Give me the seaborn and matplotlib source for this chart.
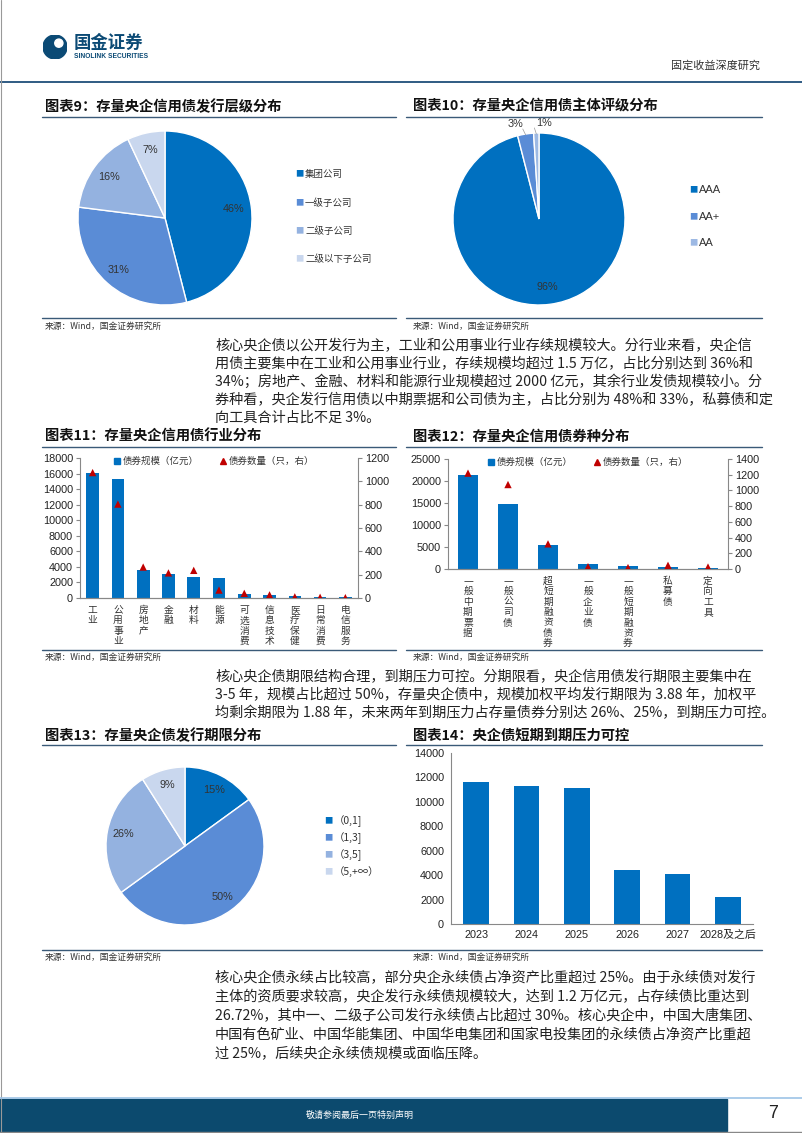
import numpy as np
import pandas as pd
import matplotlib
matplotlib.use('Agg')
import matplotlib.pyplot as plt
import seaborn as sns
from matplotlib.patches import Rectangle, Circle
from matplotlib.lines import Line2D

sns.set_theme(style='white')
plt.rcParams['font.family'] = ['Noto Sans CJK SC', 'DejaVu Sans']
plt.rcParams['axes.unicode_minus'] = False

# ---------------- data ----------------
tier_labels = ['集团公司', '一级子公司', '二级子公司', '二级以下子公司']
tier_share = [46, 31, 16, 7]

rating_labels = ['AAA', 'AA+', 'AA']
rating_share = [96, 3, 1]

industry = ['工业', '公用事业', '房地产', '金融', '材料', '能源', '可选消费',
            '信息技术', '医疗保健', '日常消费', '电信服务']
industry_amt = [16100, 15300, 3580, 3050, 2700, 2580, 450, 350, 230, 140, 100]
industry_cnt = [1075, 805, 265, 215, 237, 68, 40, 27, 10, 6, 3]

bond_type = ['一般中期票据', '一般公司债', '超短期融资债券', '一般企业债',
             '一般短期融资券', '私募债', '定向工具']
type_amt = [21400, 14700, 5400, 1230, 620, 550, 230]
type_cnt = [1220, 1075, 320, 30, 18, 47, 25]

tenor_labels = ['（0,1]', '（1,3]', '（3,5]', '（5,+∞）']
tenor_share = [15, 50, 26, 9]

mat_years = ['2023', '2024', '2025', '2026', '2027', '2028及之后']
mat_amt = [11590, 11320, 11130, 4430, 4120, 2240]

BLUE = '#0070C0'
RED = '#C00000'
pie_colors = ['#0070C0', '#5A8CD6', '#94B2E0', '#C9D7EE']
rating_colors = ['#0070C0', '#5A8CD6', '#9DB9E4']
NUMFONT = ['Liberation Sans', 'DejaVu Sans']
TXT = '#222222'
LINEC = '#3A5A78'

W, H = 802, 1133
fig = plt.figure(figsize=(W / 100, H / 100), dpi=100)


def box(x, y, w, h):
    return [x / W, 1 - (y + h) / H, w / W, h / H]


def ftext(x, y, s, **kw):
    kw.setdefault('va', 'center')
    return fig.text(x / W, 1 - y / H, s, **kw)


def hline(x0, x1, y, color, lw):
    fig.add_artist(Line2D([x0 / W, x1 / W], [1 - y / H, 1 - y / H],
                          color=color, lw=lw, transform=fig.transFigure))


# ---------------- header ----------------
lax = fig.add_axes(box(43, 35, 24, 24))
lax.set_xlim(0, 1); lax.set_ylim(0, 1); lax.set_aspect('equal'); lax.axis('off')
lax.add_patch(Circle((0.5, 0.5), 0.5, color='#0B4A75'))
lax.add_patch(Circle((0.66, 0.66), 0.17, color='white'))
ftext(74, 43, '国金证券', fontsize=12.5, fontweight='bold', color='#0B4A75')
ftext(74, 56, 'SINOLINK SECURITIES', fontsize=4.8, fontweight='bold',
      color='#0B4A75', family=NUMFONT)
ftext(760, 65, '固定收益深度研究', fontsize=8, color='#333333', ha='right')
hline(0, 802, 82, '#1F4E79', 1.3)
fig.add_artist(Line2D([0.5 / W, 0.5 / W], [0, 1], color='#999999', lw=0.8,
                      transform=fig.transFigure))

# ---------------- section titles / rules ----------------
def title(x, y, s):
    ftext(x, y, s, fontsize=10.3, fontweight='bold', color='#111111', style='italic')


def source(x, y):
    ftext(x, y, '来源：Wind，国金证券研究所', fontsize=6.3, color='#333333')


title(45, 107, '图表9：存量央企信用债发行层级分布')
title(413, 107, '图表10：存量央企信用债主体评级分布')
hline(42, 396, 117, LINEC, 1.0)
hline(406, 762, 117, LINEC, 1.0)
hline(42, 396, 318, LINEC, 1.0)
hline(406, 762, 318, LINEC, 1.0)
source(45, 326)
source(413, 326)

title(45, 437, '图表11：存量央企信用债行业分布')
title(413, 437, '图表12：存量央企信用债券种分布')
hline(42, 396, 447, LINEC, 1.0)
hline(406, 762, 447, LINEC, 1.0)
hline(42, 396, 650, LINEC, 1.0)
hline(406, 762, 650, LINEC, 1.0)
source(45, 657)
source(413, 657)

title(45, 736, '图表13：存量央企债发行期限分布')
title(413, 736, '图表14：央企债短期到期压力可控')
hline(42, 396, 745, LINEC, 1.0)
hline(406, 762, 745, LINEC, 1.0)
hline(42, 762, 950, LINEC, 1.0)
source(45, 957)
source(413, 957)

# ---------------- paragraphs ----------------
para1 = ['核心央企债以公开发行为主，工业和公用事业行业存续规模较大。分行业来看，央企信',
         '用债主要集中在工业和公用事业行业，存续规模均超过 1.5 万亿，占比分别达到 36%和',
         '34%；房地产、金融、材料和能源行业规模超过 2000 亿元，其余行业发债规模较小。分',
         '券种看，央企发行信用债以中期票据和公司债为主，占比分别为 48%和 33%，私募债和定',
         '向工具合计占比不足 3%。']
para2 = ['核心央企债期限结构合理，到期压力可控。分期限看，央企信用债发行期限主要集中在',
         '3-5 年，规模占比超过 50%，存量央企债中，规模加权平均发行期限为 3.88 年，加权平',
         '均剩余期限为 1.88 年，未来两年到期压力占存量债券分别达 26%、25%，到期压力可控。']
para3 = ['核心央企债永续占比较高，部分央企永续债占净资产比重超过 25%。由于永续债对发行',
         '主体的资质要求较高，央企发行永续债规模较大，达到 1.2 万亿元，占存续债比重达到',
         '26.72%，其中一、二级子公司发行永续债占比超过 30%。核心央企中，中国大唐集团、',
         '中国有色矿业、中国华能集团、中国华电集团和国家电投集团的永续债占净资产比重超',
         '过 25%，后续央企永续债规模或面临压降。']


def paragraph(lines, y0, dy):
    for i, s in enumerate(lines):
        ftext(215, y0 + i * dy, s, fontsize=10.2, color=TXT)


paragraph(para1, 346, 18)
paragraph(para2, 677, 18)
paragraph(para3, 978, 19)

# ---------------- pies ----------------
def draw_pie(center, r, vals, colors):
    cx, cy = center
    ax = fig.add_axes(box(cx - r, cy - r, 2 * r, 2 * r))
    wedges, texts, autos = ax.pie(
        vals, colors=colors, startangle=90, counterclock=False,
        autopct=lambda p: f'{p:.0f}%', pctdistance=0.8,
        wedgeprops=dict(edgecolor='white', linewidth=1.0),
        textprops=dict(fontsize=7.8, color='#333333', family=NUMFONT))
    ax.set_xlim(-1, 1); ax.set_ylim(-1, 1)
    ax.set_aspect('equal')
    return ax, wedges, autos


def pie_legend(x, ys, labels, colors, fs=7, family=None):
    for yy, lab, c in zip(ys, labels, colors):
        ftext(x, yy, '■', fontsize=6, color=c, ha='center')
        kw = dict(fontsize=fs, color='#333333')
        if family:
            kw['family'] = family
        ftext(x + 6, yy, lab, **kw)


# Pie 9
draw_pie((165, 218), 87, tier_share, pie_colors)
pie_legend(299, [174, 203, 231, 259], tier_labels, pie_colors, fs=6.8)

# Pie 10
ax10, w10, a10 = draw_pie((539, 219), 86, rating_share, rating_colors)
for wdg, t in zip(w10, a10):
    ang = np.deg2rad((wdg.theta1 + wdg.theta2) / 2)
    if wdg.theta2 - wdg.theta1 < 20:
        x, y = 1.13 * np.cos(ang), 1.12 * np.sin(ang)
        t.set_position((x, y))
        t.set_ha('right' if np.cos(ang) < -0.05 else 'left')
        ax10.plot([0.99 * np.cos(ang), 1.08 * np.cos(ang) - 0.02],
                  [0.99 * np.sin(ang), 1.06 * np.sin(ang)], color='#999999', lw=0.5,
                  clip_on=False)
for t in a10:
    t.set_clip_on(False)
pie_legend(693, [190, 217, 243], rating_labels, rating_colors, fs=8, family=NUMFONT)

# Pie 13
draw_pie((185, 846), 79, tenor_share, pie_colors)
pie_legend(328, [821, 838, 855, 872], tenor_labels, pie_colors, fs=7.5)

# ---------------- bar + triangle charts ----------------
def style_axis(ax, right=False):
    for side in ['left', 'bottom', 'right']:
        ax.spines[side].set_color('#888888')
        ax.spines[side].set_linewidth(0.8)
    ax.spines['top'].set_visible(False)
    ax.tick_params(axis='y', which='both', direction='out', length=3, width=0.8,
                   color='#888888', labelsize=7.8, labelcolor='#222222', pad=2)
    for lab in ax.get_yticklabels():
        lab.set_family(NUMFONT)


def vertical(s):
    return '\n'.join(list(s))


def combo_chart(rect, cats, amt, cnt, ymax, ystep, y2max, y2step, legend_anchor):
    ax = fig.add_axes(box(*rect))
    df = pd.DataFrame({'cat': cats, 'amt': amt, 'cnt': cnt})
    sns.barplot(data=df, x='cat', y='amt', ax=ax, color=BLUE, width=0.5,
                saturation=1, edgecolor='none')
    ax.set_xlim(-0.5, len(cats) - 0.5)
    ax.set_ylim(0, ymax)
    ax.set_yticks(np.arange(0, ymax + 1, ystep))
    ax.set_xlabel(''); ax.set_ylabel('')
    ax2 = ax.twinx()
    sns.scatterplot(data=df, x='cat', y='cnt', ax=ax2, marker='^', color=RED,
                    s=28, edgecolor='none', zorder=5)
    ax2.set_xlim(-0.5, len(cats) - 0.5)
    ax2.set_ylim(0, y2max)
    ax2.set_yticks(np.arange(0, y2max + 1, y2step))
    ax2.set_ylabel('')
    style_axis(ax)
    style_axis(ax2)
    ax2.spines['left'].set_visible(False)
    ax.spines['right'].set_visible(False)
    ax.set_xticks(range(len(cats)))
    ax.set_xticklabels([vertical(c) for c in cats], fontsize=7, linespacing=1.05,
                       va='top', color='#333333')
    ax.tick_params(axis='x', length=0, pad=5)
    handles = [Line2D([], [], marker='s', linestyle='none', color=BLUE, markersize=4.5),
               Line2D([], [], marker='^', linestyle='none', color=RED, markersize=5)]
    ax2.legend(handles, ['债券规模（亿元）', '债券数量（只，右）'], loc='upper center',
               bbox_to_anchor=legend_anchor, ncol=2, frameon=False, fontsize=6.8,
               handlelength=0.8, handletextpad=0.2, columnspacing=2.2,
               labelcolor='#333333')
    return ax, ax2


combo_chart((80, 458, 278, 140), industry, industry_amt, industry_cnt,
            18000, 2000, 1200, 200, (0.48, 1.07))
combo_chart((448, 459, 280, 110), bond_type, type_amt, type_cnt,
            25000, 5000, 1400, 200, (0.5, 1.09))

# Chart 14
ax14 = fig.add_axes(box(451, 753, 302, 171))
df14 = pd.DataFrame({'year': mat_years, 'amt': mat_amt})
sns.barplot(data=df14, x='year', y='amt', ax=ax14, color=BLUE, width=0.51,
            saturation=1, edgecolor='none')
ax14.set_xlim(-0.5, len(mat_years) - 0.5)
ax14.set_ylim(0, 14000)
ax14.set_yticks(np.arange(0, 14001, 2000))
ax14.set_xlabel(''); ax14.set_ylabel('')
style_axis(ax14)
ax14.spines['right'].set_visible(False)
ax14.set_xticks(np.arange(-0.5, len(mat_years)), minor=True)
ax14.tick_params(axis='x', which='minor', length=4, width=0.8, color='#888888',
                 direction='out')
ax14.tick_params(axis='x', which='major', length=0, labelsize=7.8, labelcolor='#222222',
                 pad=4)
ax14.set_xticklabels(mat_years)
for lab in ax14.get_xticklabels():
    lab.set_family(NUMFONT + ['Noto Sans CJK SC'])

# ---------------- footer ----------------
fig.add_artist(Rectangle((0, 1 - 1131 / H), 727 / W, 32 / H, transform=fig.transFigure,
                         color='#0C4A6E', zorder=1))
hline(0, 802, 1097.5, '#9DC3E6', 1.2)
hline(0, 802, 1131.5, '#888888', 1.0)
ftext(360, 1115, '敬请参阅最后一页特别声明', fontsize=6.5, color='white', ha='center')
ftext(773, 1114, '7', fontsize=13, color='#222222', ha='center', family=NUMFONT)

fig.savefig('out.png', dpi=100)
